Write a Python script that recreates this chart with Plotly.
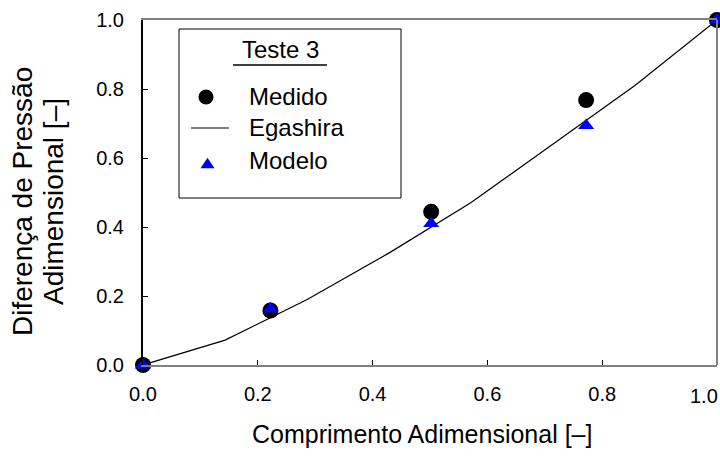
import plotly.graph_objects as go

# Measured and modelled dimensionless pressure difference (Teste 3)
x_medido = [0.0, 0.222, 0.502, 0.772, 1.0]
y_medido = [0.0, 0.158, 0.444, 0.768, 1.0]

x_modelo = [0.0, 0.222, 0.502, 0.772, 1.0]
y_modelo = [0.0, 0.163, 0.410, 0.694, 1.0]

# Egashira correlation
x_egashira = [0.0, 0.143, 0.286, 0.429, 0.571, 0.714, 0.857, 1.0]
y_egashira = [0.0, 0.072, 0.190, 0.325, 0.470, 0.640, 0.810, 1.0]

tick_vals = [0.0, 0.2, 0.4, 0.6, 0.8, 1.0]
tick_text = ["0.0", "0.2", "0.4", "0.6", "0.8", "1.0"]

legend_title = "Teste 3"
legend_names = ["Medido", "Egashira", "Modelo"]
x_title = "Comprimento Adimensional [–]"
y_title_lines = ["Diferença de Pressão", "Adimensional [–]"]

FONT = "Arial, Liberation Sans, sans-serif"
W, H = 720, 457
L, R, T, B = 143, 717, 20, 365


def px(x):
    return (x - L) / (R - L)


def py(y):
    return (B - y) / (B - T)


fig = go.Figure()
fig.add_trace(go.Scatter(x=x_egashira, y=y_egashira, mode="lines",
                         line=dict(color="black", width=1.2),
                         name=legend_names[1], cliponaxis=False))
fig.add_trace(go.Scatter(x=x_medido, y=y_medido, mode="markers",
                         marker=dict(symbol="circle", size=16, color="black"),
                         name=legend_names[0], cliponaxis=False))
fig.add_trace(go.Scatter(x=x_modelo, y=y_modelo, mode="markers",
                         marker=dict(symbol="triangle-up", size=14, color="#0000ff"),
                         name=legend_names[2], cliponaxis=False))

shapes = [
    # right frame edge
    dict(type="line", xref="paper", yref="paper", x0=1, x1=1, y0=0, y1=1,
         line=dict(color="#808080", width=2)),
    # legend box
    dict(type="rect", xref="paper", yref="paper",
         x0=px(179), x1=px(401), y0=py(198), y1=py(29),
         line=dict(color="black", width=1), fillcolor="white"),
    # title underline
    dict(type="line", xref="paper", yref="paper",
         x0=px(233), x1=px(327), y0=py(65), y1=py(65),
         line=dict(color="black", width=1.5)),
    # legend glyphs
    dict(type="circle", xref="paper", yref="paper",
         xsizemode="pixel", ysizemode="pixel",
         xanchor=px(206), yanchor=py(97),
         x0=-7.5, x1=7.5, y0=-7.5, y1=7.5,
         fillcolor="black", line=dict(width=0)),
    dict(type="line", xref="paper", yref="paper",
         x0=px(191), x1=px(229), y0=py(128), y1=py(128),
         line=dict(color="black", width=1.2)),
    dict(type="path", xref="paper", yref="paper",
         xsizemode="pixel", ysizemode="pixel",
         xanchor=px(207.5), yanchor=py(163),
         path="M-7,-5.3 L7,-5.3 L0,5.3 Z",
         fillcolor="#0000ff", line=dict(width=0)),
]


def label(text, x, y, size, anchor="left", angle=0):
    return dict(text=text, xref="paper", yref="paper", x=px(x), y=py(y),
                xanchor=anchor, yanchor="middle", showarrow=False,
                textangle=angle, font=dict(family=FONT, size=size, color="black"))


annotations = [
    label(legend_title, 280, 49, 24, "center"),
    label(legend_names[0], 247, 96, 24),
    label(legend_names[1], 247, 128, 24),
    label(legend_names[2], 247, 160, 24),
    label(x_title, 422, 434, 25, "center"),
    label(y_title_lines[0], 22, 202, 28, "center", -90),
    label(y_title_lines[1], 53, 202, 28, "center", -90),
    # last x tick label, kept inside the page edge
    label(tick_text[-1], 720, 396, 20, "right"),
]

# the final x label is drawn as an annotation above so it stays on the page
x_tick_text = tick_text[:-1] + [""]

fig.update_layout(
    width=W, height=H,
    margin=dict(l=L, r=W - R, t=T, b=H - B, autoexpand=False),
    paper_bgcolor="white", plot_bgcolor="white",
    showlegend=False,
    font=dict(family=FONT, color="black"),
    shapes=shapes, annotations=annotations,
    xaxis=dict(range=[0, 1], tickvals=tick_vals, ticktext=x_tick_text,
               showgrid=False, zeroline=False, automargin=False,
               showline=True, linecolor="#808080", linewidth=2, mirror=True,
               ticks="inside", ticklen=5, tickcolor="black", tickwidth=1,
               tickfont=dict(size=20), ticklabelstandoff=10),
    yaxis=dict(range=[0, 1], tickvals=tick_vals, ticktext=tick_text,
               showgrid=False, zeroline=False, automargin=False,
               showline=True, linecolor="black", linewidth=2,
               ticks="inside", ticklen=5, tickcolor="black", tickwidth=1,
               tickfont=dict(size=20), ticklabelstandoff=13),
)

fig.write_html("out.html")
